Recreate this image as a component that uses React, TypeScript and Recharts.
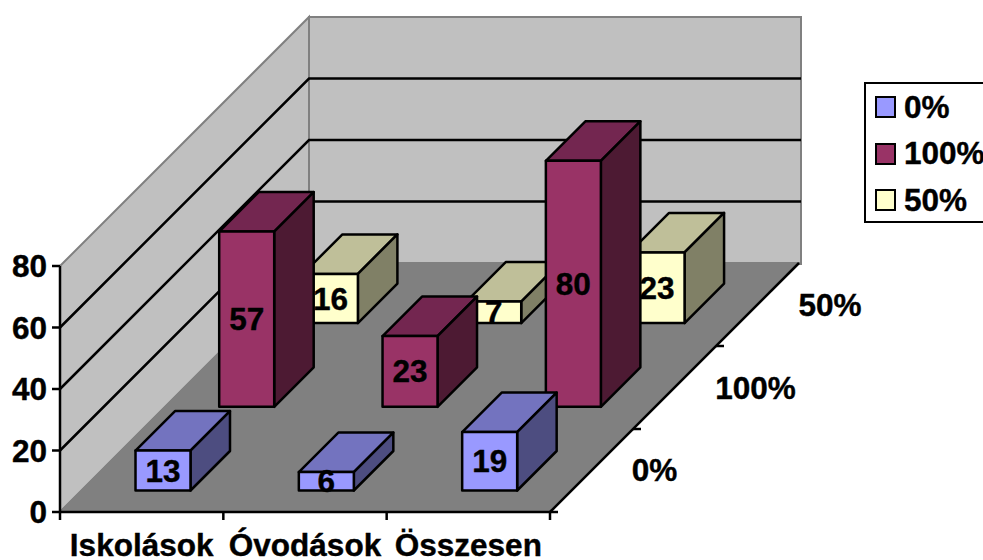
import { Bar, BarChart, Legend, XAxis, YAxis } from 'recharts'

const categories = ['Iskolások', 'Óvodások', 'Összesen']
const zeroPct = [13, 6, 19]
const fullPct = [57, 23, 80]
const halfPct = [16, 7, 23]
const seriesNames = ['0%', '100%', '50%']
const yTicks = [0, 20, 40, 60, 80]

const tableData = categories.map((name, i) => ({
  name,
  zero: zeroPct[i],
  full: fullPct[i],
  half: halfPct[i],
}))

const font = '"Liberation Sans", Arial, sans-serif'
const fontSize = 31.5
const textWeight = 0.4
const lineWidth = 2.5

// plot box of the front face, the rest of the fake 3d hangs off it
const plotLeft = 60
const plotRight = 550
const plotTop = 266
const plotBottom = 512
const wallDepth = 249
const rowOffsets = [21.5, 105.2, 188.9]
const rowTicks = [83, 166]
const barDepth = 39.5
const legendWidth = 125

const colors = [
  { front: '#9999FF', top: '#7373BF', side: '#4D4D80' },
  { front: '#993366', top: '#732650', side: '#4D1A33' },
  { front: '#FFFFCC', top: '#BFBF99', side: '#808066' },
]

const bandWidth = (plotRight - plotLeft) / categories.length
const unitHeight = (plotBottom - plotTop) / 80

function makeBarShape(row: number) {
  return function BarShape(props: any) {
    const { x, y, width, height, value } = props
    const off = rowOffsets[row]
    const c = colors[row]
    const fx = x + off
    const fy = y - off
    const d = barDepth
    return (
      <g stroke="#000" strokeWidth={lineWidth} strokeLinejoin="round">
        <polygon
          fill={c.top}
          points={`${fx},${fy} ${fx + d},${fy - d} ${fx + width + d},${fy - d} ${fx + width},${fy}`}
        />
        <polygon
          fill={c.side}
          points={`${fx + width},${fy} ${fx + width + d},${fy - d} ${fx + width + d},${fy + height - d} ${fx + width},${fy + height}`}
        />
        <rect x={fx} y={fy} width={width} height={height} fill={c.front} />
        <text
          x={fx + width / 2}
          y={fy + height / 2}
          textAnchor="middle"
          dominantBaseline="central"
          stroke="#000"
          strokeWidth={textWeight}
          fill="#000"
          fontFamily={font}
          fontWeight="bold"
          fontSize={fontSize}
        >
          {value}
        </text>
      </g>
    )
  }
}

function CategoryTick(props: any) {
  const { x, y, payload, index } = props
  const left = x - bandWidth / 2
  return (
    <g>
      <line x1={left} y1={plotBottom} x2={left} y2={plotBottom + 8} stroke="#000" strokeWidth={lineWidth} />
      {index === categories.length - 1 && (
        <line x1={x + bandWidth / 2} y1={plotBottom} x2={x + bandWidth / 2} y2={plotBottom + 8} stroke="#000" strokeWidth={lineWidth} />
      )}
      <text
        x={x}
        y={y + 36}
        textAnchor="middle"
        fill="#000"
        stroke="#000"
        strokeWidth={textWeight}
        fontFamily={font}
        fontWeight="bold"
        fontSize={fontSize}
      >
        {payload.value}
      </text>
    </g>
  )
}

function LegendBox() {
  return (
    <div
      style={{
        boxSizing: 'border-box',
        width: legendWidth,
        height: 141,
        border: '2px solid #000',
        background: '#fff',
        position: 'relative',
        fontFamily: font,
        fontWeight: 'bold',
        fontSize,
        color: '#000',
        WebkitTextStroke: `${textWeight}px #000`,
      }}
    >
      {seriesNames.map((name, i) => (
        <div key={name} style={{ position: 'absolute', left: 9, top: 12 + i * 46.5, height: 22, display: 'flex', alignItems: 'center', whiteSpace: 'nowrap' }}>
          <span style={{ boxSizing: 'border-box', width: 21, height: 22, border: '2px solid #000', background: colors[i].front, marginRight: 8 }} />
          {name}
        </div>
      ))}
    </div>
  )
}

function Walls() {
  const backLeft = plotLeft + wallDepth
  const backRight = plotRight + wallDepth
  const backBottom = plotBottom - wallDepth
  const wallTop = plotTop - wallDepth
  const gridTicks = yTicks.slice(1, -1)
  return (
    <g>
      <polygon
        points={`${plotLeft},${plotTop} ${backLeft},${wallTop} ${backLeft},${backBottom} ${plotLeft},${plotBottom}`}
        fill="#C0C0C0"
        stroke="#808080"
        strokeWidth={2}
      />
      <rect x={backLeft} y={wallTop} width={plotRight - plotLeft + 2} height={plotBottom - plotTop + 1} fill="#C0C0C0" stroke="#808080" strokeWidth={2} />
      <polygon
        points={`${plotLeft},${plotBottom} ${plotRight},${plotBottom} ${backRight},${backBottom} ${backLeft},${backBottom}`}
        fill="#808080"
        stroke="#808080"
        strokeWidth={2}
      />
      {gridTicks.map((t) => {
        const h = t * unitHeight
        return (
          <polyline
            key={t}
            points={`${plotLeft},${plotBottom - h} ${backLeft},${backBottom - h} ${backRight + 2},${backBottom - h}`}
            fill="none"
            stroke="#000"
            strokeWidth={lineWidth}
          />
        )
      })}
      <line x1={plotRight} y1={plotBottom} x2={backRight} y2={backBottom} stroke="#000" strokeWidth={lineWidth} />
      {rowTicks.map((t) => (
        <line key={t} x1={plotRight + t} y1={plotBottom - t} x2={plotRight + t + 8} y2={plotBottom - t} stroke="#000" strokeWidth={lineWidth} />
      ))}
      <line x1={plotRight} y1={plotBottom} x2={plotRight + 8} y2={plotBottom} stroke="#000" strokeWidth={lineWidth} />
      {seriesNames.map((name, i) => (
        <text
          key={name}
          x={[654.5, 755.5, 830][i]}
          y={[481, 399, 316][i]}
          textAnchor="middle"
          fill="#000"
          stroke="#000"
          strokeWidth={textWeight}
          fontFamily={font}
          fontWeight="bold"
          fontSize={fontSize}
        >
          {name}
        </text>
      ))}
    </g>
  )
}

export default function App() {
  return (
    <div style={{ position: 'absolute', left: 0, top: 0, width: 983, height: 560, overflow: 'hidden', background: '#fff' }}>
      <BarChart
        width={983}
        height={560}
        data={tableData}
        barSize={55}
        barGap={-55}
        margin={{ top: plotTop, right: 983 - plotRight - legendWidth, bottom: 0, left: 0 }}
      >
        <Walls />
        <XAxis
          dataKey="name"
          height={560 - plotBottom}
          interval={0}
          tickLine={false}
          axisLine={{ stroke: '#000', strokeWidth: lineWidth }}
          tick={CategoryTick}
        />
        <YAxis
          width={plotLeft}
          domain={[0, 80]}
          ticks={yTicks}
          tickSize={8}
          tickMargin={5}
          interval={0}
          axisLine={{ stroke: '#000', strokeWidth: lineWidth }}
          tickLine={{ stroke: '#000', strokeWidth: lineWidth }}
          tick={{ fill: '#000', stroke: '#000', strokeWidth: textWeight, fontFamily: font, fontWeight: 'bold', fontSize }}
        />
        <Legend
          layout="vertical"
          align="right"
          verticalAlign="top"
          width={legendWidth}
          content={LegendBox}
          wrapperStyle={{ left: 864, top: 82, right: 'auto', bottom: 'auto' }}
        />
        <Bar dataKey="half" isAnimationActive={false} shape={makeBarShape(2)} />
        <Bar dataKey="full" isAnimationActive={false} shape={makeBarShape(1)} />
        <Bar dataKey="zero" isAnimationActive={false} shape={makeBarShape(0)} />
      </BarChart>
    </div>
  )
}
